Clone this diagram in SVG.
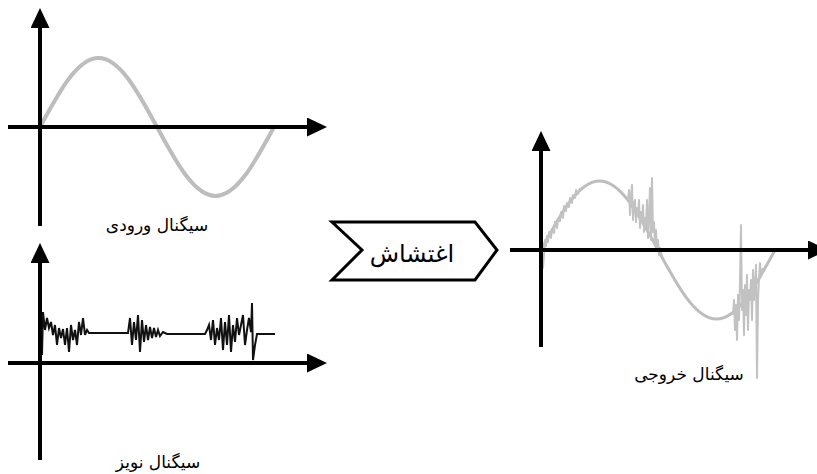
<svg xmlns="http://www.w3.org/2000/svg" width="817" height="474" viewBox="0 0 817 474">
<style>
.axis{stroke:#000;stroke-width:4;fill:none;marker-end:url(#ah)}
.sine{stroke:#bdbdbd;fill:none;stroke-linecap:round;stroke-linejoin:round}
.noise{stroke:#111;stroke-width:2;fill:none;stroke-linejoin:miter}
.gnoise{stroke:#c2c2c2;stroke-width:2;fill:none;stroke-linejoin:round}
.lbl{font-family:"DejaVu Sans","Noto Sans",sans-serif;font-size:17px;fill:#000;text-anchor:middle}
</style>
<defs>
<marker id="ah" markerUnits="userSpaceOnUse" markerWidth="21" markerHeight="20" refX="0" refY="9.5" orient="auto">
<path d="M0,0 L20,9.5 L0,19 z" fill="#000"/>
</marker>
</defs>
<rect width="817" height="474" fill="#fff"/>

<g id="input-signal">
<path class="sine" stroke-width="4" d="M40,127 C59.56,90.8 77.44,58 98.5,58 S137.44,90.8 157,127 S194.44,196 215.5,196 S254.44,163.2 274,127"/>
<line class="axis" x1="40" y1="226" x2="40" y2="28"/>
<line class="axis" x1="8" y1="127" x2="307" y2="127"/>
<text class="lbl" x="157" y="231">سیگنال ورودی</text>
</g>

<g id="noise-signal">
<polyline class="noise" points="42,355 43,312 45,330 47,318 49,328 51,322 53,335 55,325 57,345 59,328 61,338 63,329 65,345 67,328 69,352 71,325 73,340 75,330 77,345 79,322 81,335 83,318 85,335 87,330 89,333 128,333 130,318 132,345 134,322 136,340 138,315 140,352 142,320 144,342 146,325 148,340 150,327 152,338 154,328 156,337 158,330 160,336 163,332 167,334 205,334 207,330 209,325 211,340 213,320 215,345 217,328 219,340 221,318 223,350 225,322 227,345 229,315 231,352 233,325 235,342 237,318 239,335 241,325 243,315 245,345 247,330 249,318 251,332 252,303 253,360 255,345 257,334 275,334"/>
<line class="axis" x1="40" y1="460" x2="40" y2="263"/>
<line class="axis" x1="8" y1="363" x2="307" y2="363"/>
<text class="lbl" x="158" y="468">سیگنال نویز</text>
</g>

<g id="jamming">
<polygon points="332,222 475,222 497,250 475,280 332,280 362,250" fill="#fff" stroke="#000" stroke-width="3" stroke-linejoin="miter"/>
<text class="lbl" x="412" y="262" style="font-size:24px">اغتشاش</text>
</g>

<g id="output-signal">
<path class="sine" stroke-width="3" d="M541,250 C560.56,213.8 578.44,181 599.5,181 S638.44,213.8 658,250 S695.44,319 716.5,319 S755.44,286.2 775,250"/>
<polyline class="gnoise" points="541,250 542,262 543,268 544,255 545,240 546,246 547,236 548,242 549,232 551,238 552,229 554,233 555,222 557,228 558,220 560,221 561,212 563,218 564,206 566,211 567,203 569,207 570,198 572,203 573,195 575,198 576,190 578,194 580,188"/>
<polyline class="gnoise" points="628,200 629,190 630,215 631,196 632,185 633,220 634,205 635,200 636,222 637,208 638,215 639,200 640,228 641,212 642,222 643,205 644,232 645,218 646,226 647,200 648,238 649,215 650,188 651,240 652,178 653,232 654,222 655,245 656,230 657,250 658,240 659,255 660,248 662,256"/>
<polyline class="gnoise" points="733,315 734,300 735,330 736,305 737,340 738,295 739,320 740,280 741,225 742,310 743,290 744,335 745,285 746,315 747,275 748,330 749,290 750,300 751,280 752,320 753,270 754,300 755,285 756,265 757,378 758,300 759,278 760,263 761,275 763,268"/>
<line class="axis" x1="541" y1="347" x2="541" y2="151"/>
<line class="axis" x1="510" y1="250" x2="808" y2="250"/>
<text class="lbl" x="689" y="380">سیگنال خروجی</text>
</g>
</svg>
